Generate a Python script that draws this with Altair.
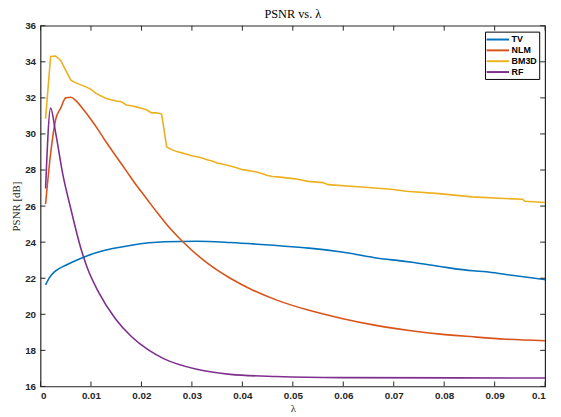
import altair as alt
import pandas as pd

# ---- data ----
tv_lam = [0.001, 0.0018, 0.003, 0.005, 0.0083, 0.0115, 0.018, 0.0245, 0.031, 0.0376,
          0.0467, 0.0532, 0.0597, 0.0662, 0.0714, 0.074, 0.0792, 0.0857, 0.0883, 0.0922, 0.1]
tv_val = [21.63, 22.05, 22.41, 22.72, 23.14, 23.45, 23.83, 24.02, 24.05, 23.98,
          23.81, 23.67, 23.45, 23.14, 22.96, 22.87, 22.65, 22.41, 22.36, 22.21, 21.92]

nlm_lam = [0.001, 0.002, 0.003, 0.004, 0.005, 0.006, 0.007, 0.0085, 0.010, 0.0115,
           0.013, 0.015, 0.017, 0.019, 0.021, 0.023, 0.025, 0.0281, 0.033, 0.0376,
           0.042, 0.0467, 0.0532, 0.0597, 0.0662, 0.0727, 0.0792, 0.0857, 0.0922, 0.1]
nlm_val = [26.11, 28.9, 30.8, 31.43, 32.0, 32.03, 31.85, 31.35, 30.8, 30.2,
           29.55, 28.75, 27.95, 27.15, 26.42, 25.68, 24.98, 24.05, 22.85, 22.0,
           21.35, 20.8, 20.22, 19.77, 19.4, 19.12, 18.9, 18.75, 18.62, 18.53]

bm3d_lam = [0.001, 0.002, 0.003, 0.004, 0.005, 0.006, 0.007, 0.008, 0.009, 0.010,
            0.011, 0.012, 0.013, 0.014, 0.015, 0.016, 0.017, 0.018, 0.019, 0.020,
            0.021, 0.022, 0.023, 0.024, 0.025, 0.026, 0.027, 0.028, 0.029, 0.030,
            0.031, 0.032, 0.033, 0.034, 0.035, 0.036, 0.037, 0.038, 0.039, 0.040,
            0.041, 0.042, 0.043, 0.044, 0.045, 0.046, 0.047, 0.0505, 0.053, 0.056,
            0.057, 0.0635, 0.0695, 0.0725, 0.079, 0.0855, 0.092, 0.0955, 0.096, 0.1]
bm3d_val = [30.85, 34.29, 34.32, 34.07, 33.52, 32.98, 32.83, 32.72, 32.61, 32.47,
            32.25, 32.10, 31.97, 31.90, 31.83, 31.79, 31.61, 31.56, 31.50, 31.43,
            31.34, 31.17, 31.17, 31.10, 29.28, 29.13, 29.02, 28.95, 28.88, 28.79,
            28.73, 28.66, 28.57, 28.50, 28.39, 28.33, 28.26, 28.20, 28.11, 28.02,
            27.98, 27.93, 27.88, 27.79, 27.70, 27.64, 27.62, 27.51, 27.37, 27.30,
            27.19, 27.06, 26.93, 26.82, 26.69, 26.51, 26.42, 26.38, 26.27, 26.20]

rf_lam = [0.001, 0.002, 0.003, 0.0044, 0.006, 0.0079, 0.0093, 0.0115, 0.0148, 0.018,
          0.0213, 0.0245, 0.031, 0.0376, 0.0467, 0.0597, 0.1]
rf_val = [26.97, 31.43, 30.06, 27.79, 25.85, 23.75, 22.55, 21.23, 19.77, 18.77,
          18.04, 17.53, 16.95, 16.67, 16.55, 16.49, 16.47]

methods = ["TV", "NLM", "BM3D", "RF"]
colors = ["#0072BD", "#D95319", "#EDB120", "#7E2F8E"]
x_ticks = [0, 0.01, 0.02, 0.03, 0.04, 0.05, 0.06, 0.07, 0.08, 0.09, 0.1]
y_ticks = [16, 18, 20, 22, 24, 26, 28, 30, 32, 34, 36]

# ---- build tables ----
rows = []
for name, lams, vals in [("TV", tv_lam, tv_val), ("NLM", nlm_lam, nlm_val),
                         ("BM3D", bm3d_lam, bm3d_val), ("RF", rf_lam, rf_val)]:
    for i, (l, v) in enumerate(zip(lams, vals)):
        rows.append({"method": name, "lam": l, "psnr": v, "order": i})
df = pd.DataFrame(rows)
xt = pd.DataFrame({"t": x_ticks})
yt = pd.DataFrame({"t": y_ticks})

W, H = 512, 366
AX = "#262626"

xscale = alt.Scale(domain=[0, 0.1], nice=False)
yscale = alt.Scale(domain=[16, 36], nice=False)
xaxis = alt.Axis(values=x_ticks, labelExpr="format(datum.value, '~g')", title="λ")
yaxis = alt.Axis(values=y_ticks, title="PSNR [dB]")

enc = dict(
    x=alt.X("lam:Q", scale=xscale, axis=xaxis),
    y=alt.Y("psnr:Q", scale=yscale, axis=yaxis),
    color=alt.Color("method:N", scale=alt.Scale(domain=methods, range=colors),
                    legend=alt.Legend(title=None, orient="top-right", offset=6)),
    order="order:Q",
    detail="method:N",
)

smooth = alt.Chart(df).transform_filter(
    alt.FieldOneOfPredicate(field="method", oneOf=["TV", "NLM", "RF"])
).mark_line(strokeWidth=1.6, clip=True, interpolate="monotone").encode(**enc)
jagged = alt.Chart(df).transform_filter(
    alt.FieldEqualPredicate(field="method", equal="BM3D")
).mark_line(strokeWidth=1.6, clip=True).encode(**enc)

tick_style = dict(color=AX, strokeWidth=1)
xb = alt.Chart(xt).mark_rule(**tick_style).encode(
    x=alt.X("t:Q", scale=xscale, axis=xaxis), y=alt.value(H), y2=alt.value(H - 5))
xtop = alt.Chart(xt).mark_rule(**tick_style).encode(
    x=alt.X("t:Q", scale=xscale, axis=xaxis), y=alt.value(0), y2=alt.value(5))
yl = alt.Chart(yt).mark_rule(**tick_style).encode(
    y=alt.Y("t:Q", scale=yscale, axis=yaxis), x=alt.value(0), x2=alt.value(5))
yr = alt.Chart(yt).mark_rule(**tick_style).encode(
    y=alt.Y("t:Q", scale=yscale, axis=yaxis), x=alt.value(W), x2=alt.value(W - 5))

chart = alt.layer(smooth, jagged, xb, xtop, yl, yr).properties(
    width=W, height=H,
    title=alt.TitleParams("PSNR vs. λ", font="Liberation Serif", fontSize=12.5,
                          fontWeight="normal", color="#000000", offset=0),
    autosize=alt.AutoSizeParams(type="none"),
    padding={"left": 33, "top": 15, "right": 8, "bottom": 26},
).configure_view(
    stroke=AX, strokeWidth=1.2
).configure_axis(
    grid=False, ticks=False, domain=False, labelOverlap=False,
    labelFont="Liberation Sans", labelFontSize=10, labelFontWeight="bold",
    labelColor=AX, labelPadding=5,
    titleFont="Liberation Serif", titleFontSize=11, titleFontWeight="normal",
    titleColor=AX,
).configure_axisX(
    labelPadding=4, titlePadding=2
).configure_axisY(
    titlePadding=3
).configure_legend(
    fillColor="white", strokeColor="#000000", padding=2, cornerRadius=0,
    labelFont="Liberation Sans", labelFontSize=9, labelFontWeight="bold",
    labelColor="#000000", symbolType="M-2.4,0H2.4", symbolStrokeWidth=2,
    symbolSize=90, symbolOffset=5, rowPadding=0, labelOffset=8,
)

chart.save("out.html", embed_options={"renderer": "svg", "actions": False})
